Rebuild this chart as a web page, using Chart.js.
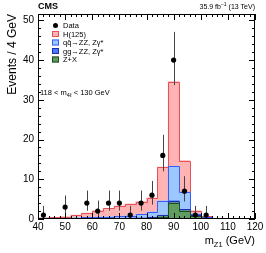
<!DOCTYPE html>
<html>
<head>
<meta charset="utf-8">
<script src="https://cdn.jsdelivr.net/npm/chart.js@4.4.1/dist/chart.umd.min.js"></script>
<style>
  html, body { margin: 0; padding: 0; background: #fff; }
  canvas { display: block; }
</style>
</head>
<body>
<canvas id="massPlot" width="266" height="253"></canvas>
<script>
// --- data: 4 GeV bins from 40 to 120 GeV ---
const binCenters = [42, 46, 50, 54, 58, 62, 66, 70, 74, 78, 82, 86, 90, 94, 98, 102, 106, 110, 114, 118];
const binWidth = 4;

// stacked expectations (bottom to top)
const zxYield    = [0.08, 0.08, 0.08, 0.08, 0.09, 0.10, 0.10, 0.12, 0.15, 0.20, 0.30, 0.60, 4.10, 2.10, 0.85, 0.20, 0.06, 0.02, 0.01, 0.01];
const ggZZYield  = [0.06, 0.06, 0.06, 0.06, 0.07, 0.08, 0.08, 0.09, 0.10, 0.12, 0.15, 0.35, 0.50, 0.30, 0.10, 0.05, 0.02, 0.01, 0.01, 0.005];
const qqZZYield  = [0.11, 0.14, 0.16, 0.21, 0.24, 0.32, 0.42, 0.49, 0.60, 0.88, 1.35, 3.65, 8.70, 4.40, 0.35, 0.13, 0.07, 0.03, 0.01, 0.005];
const higgsYield = [0.10, 0.12, 0.30, 0.65, 1.10, 1.60, 2.10, 2.60, 2.95, 3.20, 3.50, 8.50, 21.3, 7.90, 0.80, 0.27, 0.05, 0.02, 0.01, 0.00];

// observed events and their error bar ends (empty bins have no marker)
const dataCounts  = [1, 0, 3, 0, 4, 2, 4, 4, 1, 4, 6, 16, 40, 7, 1, 1, 0, 0, 0, 0];
const dataErrLow  = [0.17, 0, 1.37, 0, 2.09, 0.71, 2.09, 2.09, 0.17, 2.09, 3.62, 12.0, 33.7, 4.42, 0.17, 0.17, 0, 0, 0, 0];
const dataErrHigh = [3.30, 0, 5.92, 0, 7.16, 4.64, 7.16, 7.16, 3.30, 7.16, 9.58, 21.2, 47.1, 10.77, 3.30, 3.30, 0, 0, 0, 0];

const xRange = [40, 120];
const yRange = [0, 51.6];

// --- styles ---
const FONT = '"Liberation Sans", Arial, Helvetica, sans-serif';
const font = (size, bold) => (bold ? 'bold ' : '') + size + 'px ' + FONT;

const processes = [
  { label: 'Z+X',           values: zxYield,    fill: '#609c60', line: '#1e4d1e' },
  { label: 'gg\u2192ZZ, Z\u03b3*',  values: ggZZYield,  fill: '#4a78ff', line: '#1a2fb0' },
  { label: 'q\u0071\u0304\u2192ZZ, Z\u03b3*', values: qqZZYield,  fill: '#9cc8ff', line: '#3a5cff' },
  { label: 'H(125)',        values: higgsYield, fill: '#ffb3b3', line: '#e5505a' }
];

const barDatasets = processes.map(p => ({
  type: 'bar',
  label: p.label,
  data: binCenters.map((x, i) => ({ x: x, y: p.values[i] })),
  backgroundColor: p.fill,
  borderWidth: 0,
  barPercentage: 1.0,
  categoryPercentage: 1.0,
  stack: 'mc',
  order: 1
}));

const dataPoints = binCenters
  .map((x, i) => ({ x: x, y: dataCounts[i], lo: dataErrLow[i], hi: dataErrHigh[i] }))
  .filter(d => d.y > 0);

// step outlines of the stacked histograms + error bars, drawn just before the data markers
const histOutlines = {
  id: 'histOutlines',
  beforeDatasetDraw(chart, args) {
    if (args.index !== processes.length) return;
    const { ctx, chartArea } = chart;
    const xs = chart.scales.x, ys = chart.scales.y;
    ctx.save();
    ctx.beginPath();
    ctx.rect(chartArea.left, chartArea.top, chartArea.right - chartArea.left, chartArea.bottom - chartArea.top);
    ctx.clip();

    // cumulative tops
    const tops = [];
    let running = binCenters.map(() => 0);
    processes.forEach(p => {
      running = running.map((v, i) => v + p.values[i]);
      tops.push(running.slice());
    });

    for (let k = processes.length - 1; k >= 0; k--) {
      ctx.beginPath();
      ctx.moveTo(xs.getPixelForValue(binCenters[0] - binWidth / 2), ys.getPixelForValue(0));
      binCenters.forEach((c, i) => {
        const y = Math.round(ys.getPixelForValue(tops[k][i])) + 0.5;
        ctx.lineTo(Math.round(xs.getPixelForValue(c - binWidth / 2)) + 0.5, y);
        ctx.lineTo(Math.round(xs.getPixelForValue(c + binWidth / 2)) + 0.5, y);
      });
      ctx.strokeStyle = processes[k].line;
      ctx.lineWidth = 1;
      ctx.stroke();
    }

    // error bars
    ctx.strokeStyle = '#444';
    ctx.lineWidth = 1;
    dataPoints.forEach(d => {
      const x = Math.round(xs.getPixelForValue(d.x)) + 0.5;
      ctx.beginPath();
      ctx.moveTo(x, ys.getPixelForValue(d.lo));
      ctx.lineTo(x, ys.getPixelForValue(d.hi));
      ctx.stroke();
    });
    ctx.restore();
  }
};

function drawRich(ctx, parts, x, y, align) {
  let total = 0;
  parts.forEach(p => { ctx.font = font(p.size); p.w = ctx.measureText(p.t).width; total += p.w; });
  let cx = align === 'right' ? x - total : x;
  ctx.textAlign = 'left';
  ctx.textBaseline = 'alphabetic';
  parts.forEach(p => {
    ctx.font = font(p.size);
    ctx.fillText(p.t, cx, y + (p.dy || 0));
    cx += p.w;
  });
}

// ROOT-style frame, inward ticks on all sides, labels and legend
const rootFrame = {
  id: 'rootFrame',
  afterDraw(chart) {
    const { ctx, chartArea: a } = chart;
    const xs = chart.scales.x, ys = chart.scales.y;
    ctx.save();
    ctx.strokeStyle = '#000';
    ctx.lineWidth = 1;
    ctx.strokeRect(Math.round(a.left) + 0.5, Math.round(a.top) + 0.5,
      Math.round(a.right - a.left) - 1, Math.round(a.bottom - a.top) - 1);

    ctx.beginPath();
    for (let v = xRange[0]; v <= xRange[1]; v += 2) {
      const len = v % 10 === 0 ? 6 : 3;
      const x = Math.round(xs.getPixelForValue(v)) + 0.5;
      ctx.moveTo(x, a.bottom); ctx.lineTo(x, a.bottom - len);
      ctx.moveTo(x, a.top); ctx.lineTo(x, a.top + len);
    }
    for (let v = 0; v <= yRange[1]; v += 2) {
      const len = v % 10 === 0 ? 6 : 3;
      const y = Math.round(ys.getPixelForValue(v)) + 0.5;
      ctx.moveTo(a.left, y); ctx.lineTo(a.left + len, y);
      ctx.moveTo(a.right, y); ctx.lineTo(a.right - len, y);
    }
    ctx.stroke();

    ctx.fillStyle = '#000';
    // header
    ctx.font = font(9, true);
    ctx.textAlign = 'left';
    ctx.fillText('CMS', a.left, 9);
    drawRich(ctx, [
      { t: '35.9 fb', size: 7 },
      { t: '\u22121', size: 5, dy: -3 },
      { t: ' (13 TeV)', size: 7 }
    ], a.right, 9, 'right');

    // axis titles
    drawRich(ctx, [
      { t: 'm', size: 11 },
      { t: 'Z1', size: 7.5, dy: 3 },
      { t: ' (GeV)', size: 11 }
    ], a.right, 244, 'right');

    ctx.save();
    ctx.translate(16, a.top);
    ctx.rotate(-Math.PI / 2);
    ctx.font = font(12);
    ctx.textAlign = 'right';
    ctx.fillText('Events / 4 GeV', 0, 0);
    ctx.restore();

    // legend
    const lx = 52, rowH = 8.5, firstRow = 25.5;
    ctx.beginPath();
    ctx.arc(lx + 3.5, firstRow, 2.5, 0, Math.PI * 2);
    ctx.fill();
    ctx.font = font(7.5);
    ctx.textAlign = 'left';
    ctx.fillText('Data', lx + 11, firstRow + 2.7);
    const legendOrder = [3, 2, 1, 0];
    legendOrder.forEach((k, r) => {
      const cy = firstRow + rowH * (r + 1);
      ctx.fillStyle = processes[k].fill;
      ctx.fillRect(lx, cy - 3, 7, 6);
      ctx.strokeStyle = processes[k].line;
      ctx.strokeRect(lx + 0.5, cy - 2.5, 6, 5);
      ctx.fillStyle = '#000';
      ctx.font = font(7.5);
      ctx.fillText(processes[k].label, lx + 11, cy + 2.7);
    });

    drawRich(ctx, [
      { t: '118 < m', size: 7.5 },
      { t: '4\u2113', size: 5.5, dy: 2 },
      { t: ' < 130 GeV', size: 7.5 }
    ], a.left + 2, 95, 'left');
    ctx.restore();
  }
};

new Chart(document.getElementById('massPlot'), {
  data: {
    datasets: [
      ...barDatasets,
      {
        type: 'scatter',
        label: 'Data',
        data: dataPoints,
        stack: 'data',
        order: 0,
        pointRadius: 2.6,
        pointBackgroundColor: '#000',
        pointBorderWidth: 0,
        pointHoverRadius: 2.6
      }
    ]
  },
  options: {
    responsive: false,
    animation: false,
    devicePixelRatio: 1,
    layout: { padding: { top: 14, right: 11, left: 0, bottom: 0 } },
    plugins: { legend: { display: false }, tooltip: { enabled: false } },
    scales: {
      x: {
        type: 'linear',
        min: xRange[0], max: xRange[1],
        offset: false,
        stacked: true,
        grid: { display: false, drawTicks: false, offset: false },
        border: { display: false },
        ticks: { stepSize: 10, maxRotation: 0, autoSkip: false, padding: 2, color: '#000', font: { family: FONT, size: 10 } },
        afterFit(scale) { scale.height = 34; }
      },
      y: {
        type: 'linear',
        min: yRange[0], max: yRange[1],
        stacked: true,
        grid: { display: false, drawTicks: false },
        border: { display: false },
        ticks: { stepSize: 10, includeBounds: false, padding: 4, color: '#000', font: { family: FONT, size: 10 } },
        afterFit(scale) { scale.height = undefined; scale.width = 38; }
      }
    }
  },
  plugins: [histOutlines, rootFrame]
});
</script>
</body>
</html>
